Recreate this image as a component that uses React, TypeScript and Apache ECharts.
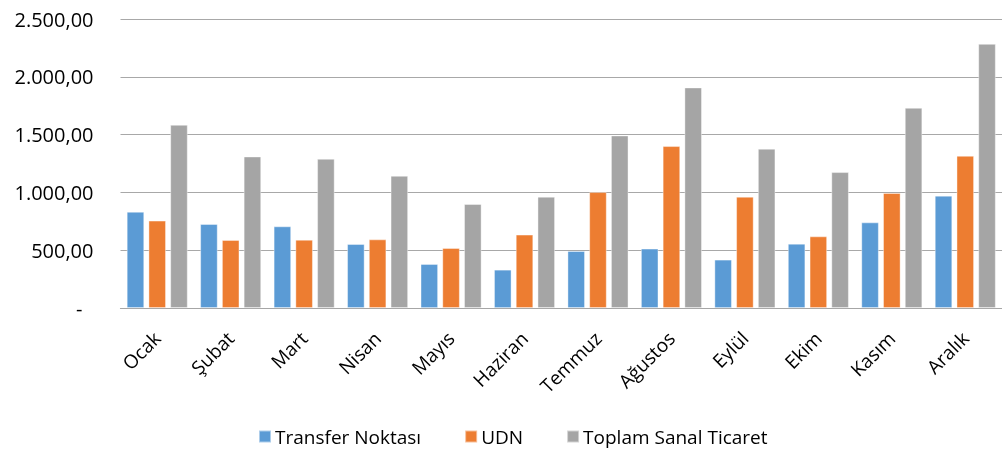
import React, { useEffect, useRef } from "react";
import * as echarts from "echarts";

const categories = ["Ocak", "Şubat", "Mart", "Nisan", "Mayıs", "Haziran", "Temmuz", "Ağustos", "Eylül", "Ekim", "Kasım", "Aralık"];
const transferNoktasi = [832, 726, 706, 553, 380, 331, 492, 513, 418, 556, 740, 971];
const udn = [755, 588, 590, 593, 518, 634, 1002, 1400, 962, 619, 994, 1316];
const toplamSanalTicaret = [1584, 1310, 1290, 1143, 899, 962, 1492, 1907, 1377, 1175, 1731, 2284];
const seriesNames = ["Transfer Noktası", "UDN", "Toplam Sanal Ticaret"];
const colors = ["#5b9bd5", "#ed7d31", "#a5a5a5"];

const FONT = "'Open Sans', sans-serif";

function fmt(v: number): string {
  if (v === 0) return "{d|-}";
  const fixed = v.toFixed(2);
  const [intPart, dec] = fixed.split(".");
  const withDots = intPart.replace(/\B(?=(\d{3})+(?!\d))/g, ".");
  return withDots + "," + dec;
}

export default function App() {
  const ref = useRef<HTMLDivElement>(null);
  useEffect(() => {
    if (!ref.current) return;
    const chart = echarts.init(ref.current, undefined, { renderer: "svg" });
    const data = [transferNoktasi, udn, toplamSanalTicaret];
    chart.setOption({
      animation: false,
      textStyle: { fontFamily: FONT },
      grid: { left: 120.5, top: 19, width: 891.5, bottom: 142, containLabel: false },
      legend: {
        left: 258,
        top: 427,
        padding: 0,
        itemWidth: 12,
        itemHeight: 12,
        itemGap: 43,
        icon: "rect",
        textStyle: { fontFamily: FONT, fontSize: 19, color: "#000", padding: [0, 0, 0, -1] },
        data: seriesNames,
      },
      xAxis: {
        type: "category",
        data: categories,
        axisTick: { show: false },
        axisLine: { lineStyle: { color: "#a6a6a6", width: 1.2 } },
        axisLabel: {
          interval: 0,
          rotate: 45,
          margin: 27,
          fontFamily: FONT,
          fontSize: 19,
          color: "#000",
        },
      },
      yAxis: {
        type: "value",
        min: 0,
        max: 2500,
        interval: 500,
        axisLine: { show: false },
        axisTick: { show: false },
        splitLine: { lineStyle: { color: "#a8a8a8", width: 1.2 } },
        axisLabel: {
          margin: 27,
          fontFamily: FONT,
          fontSize: 20,
          color: "#000",
          formatter: (v: number) => fmt(v),
          rich: { d: { fontFamily: FONT, fontSize: 20, color: "#000", padding: [0, 11, 0, 0] } },
        },
      },
      series: seriesNames.map((name, i) => ({
        name,
        type: "bar",
        data: data[i],
        barWidth: 17.4,
        barGap: "25%",
        itemStyle: { color: colors[i], borderColor: "rgba(255,255,255,0.5)", borderWidth: 0.8 },
      })),
    });
    return () => chart.dispose();
  }, []);
  return <div ref={ref} style={{ position: "fixed", left: 0, top: 0, width: 1002, height: 450 }} />;
}
